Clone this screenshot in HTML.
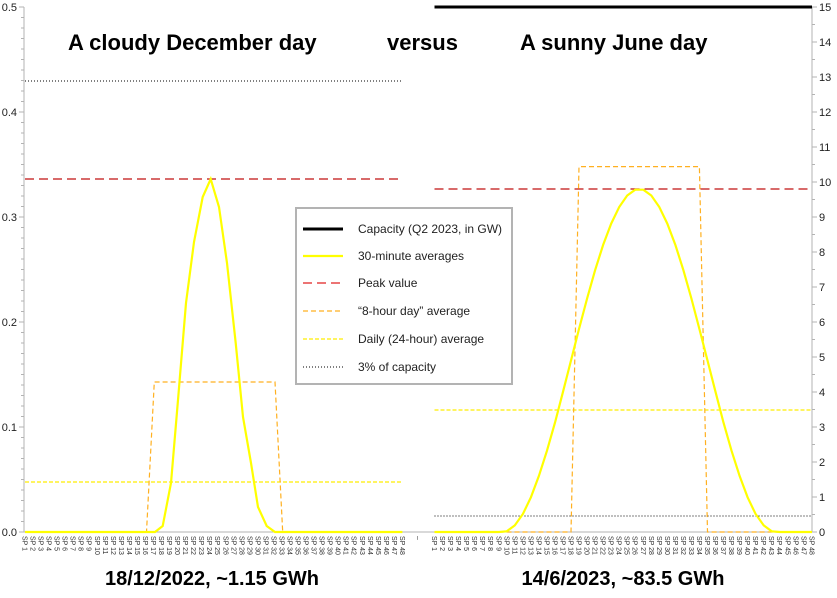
<!DOCTYPE html>
<html><head><meta charset="utf-8"><style>
html,body{margin:0;padding:0;background:#fff}
svg{display:block}
text{font-family:"Liberation Sans",sans-serif}
.t{font-size:11px;fill:#222}
.c{font-size:7px;fill:#333}
</style></head><body>
<svg width="837" height="598" viewBox="0 0 837 598" xmlns="http://www.w3.org/2000/svg">
<!-- axes -->
<line x1="24" y1="7" x2="24" y2="532" stroke="#b3b3b3"/>
<line x1="812" y1="7" x2="812" y2="532" stroke="#b3b3b3"/>
<line x1="24" y1="532" x2="812" y2="532" stroke="#b3b3b3"/>
<g stroke="#b3b3b3">
<line x1="19" y1="7" x2="24" y2="7"/><line x1="19" y1="112" x2="24" y2="112"/><line x1="19" y1="217" x2="24" y2="217"/><line x1="19" y1="322" x2="24" y2="322"/><line x1="19" y1="427" x2="24" y2="427"/><line x1="19" y1="532" x2="24" y2="532"/>
</g>
<g stroke="#b3b3b3" stroke-dasharray="3,7.5" stroke-dashoffset="-7.5">
<line x1="21.5" y1="7" x2="21.5" y2="532" stroke-width="0"/>
</g>
<path stroke="#b3b3b3" fill="none" d="M21 17.5h3M21 28h3M21 38.5h3M21 49h3M21 59.5h3M21 70h3M21 80.5h3M21 91h3M21 101.5h3M21 122.5h3M21 133h3M21 143.5h3M21 154h3M21 164.5h3M21 175h3M21 185.5h3M21 196h3M21 206.5h3M21 227.5h3M21 238h3M21 248.5h3M21 259h3M21 269.5h3M21 280h3M21 290.5h3M21 301h3M21 311.5h3M21 332.5h3M21 343h3M21 353.5h3M21 364h3M21 374.5h3M21 385h3M21 395.5h3M21 406h3M21 416.5h3M21 437.5h3M21 448h3M21 458.5h3M21 469h3M21 479.5h3M21 490h3M21 500.5h3M21 511h3M21 521.5h3"/>
<g stroke="#b3b3b3">
<line x1="812" y1="7" x2="817" y2="7"/><line x1="812" y1="42" x2="817" y2="42"/><line x1="812" y1="77" x2="817" y2="77"/><line x1="812" y1="112" x2="817" y2="112"/><line x1="812" y1="147" x2="817" y2="147"/><line x1="812" y1="182" x2="817" y2="182"/><line x1="812" y1="217" x2="817" y2="217"/><line x1="812" y1="252" x2="817" y2="252"/><line x1="812" y1="287" x2="817" y2="287"/><line x1="812" y1="322" x2="817" y2="322"/><line x1="812" y1="357" x2="817" y2="357"/><line x1="812" y1="392" x2="817" y2="392"/><line x1="812" y1="427" x2="817" y2="427"/><line x1="812" y1="462" x2="817" y2="462"/><line x1="812" y1="497" x2="817" y2="497"/><line x1="812" y1="532" x2="817" y2="532"/>
<line x1="812" y1="24.5" x2="815" y2="24.5"/><line x1="812" y1="59.5" x2="815" y2="59.5"/><line x1="812" y1="94.5" x2="815" y2="94.5"/><line x1="812" y1="129.5" x2="815" y2="129.5"/><line x1="812" y1="164.5" x2="815" y2="164.5"/><line x1="812" y1="199.5" x2="815" y2="199.5"/><line x1="812" y1="234.5" x2="815" y2="234.5"/><line x1="812" y1="269.5" x2="815" y2="269.5"/><line x1="812" y1="304.5" x2="815" y2="304.5"/><line x1="812" y1="339.5" x2="815" y2="339.5"/><line x1="812" y1="374.5" x2="815" y2="374.5"/><line x1="812" y1="409.5" x2="815" y2="409.5"/><line x1="812" y1="444.5" x2="815" y2="444.5"/><line x1="812" y1="479.5" x2="815" y2="479.5"/><line x1="812" y1="514.5" x2="815" y2="514.5"/>
</g>
<g class="t" text-anchor="end">
<text x="17" y="11">0.5</text><text x="17" y="116">0.4</text><text x="17" y="221">0.3</text><text x="17" y="326">0.2</text><text x="17" y="431">0.1</text><text x="17" y="536">0.0</text>
</g>
<g class="t">
<text x="819" y="11">15</text><text x="819" y="46">14</text><text x="819" y="81">13</text><text x="819" y="116">12</text><text x="819" y="151">11</text><text x="819" y="186">10</text><text x="819" y="221">9</text><text x="819" y="256">8</text><text x="819" y="291">7</text><text x="819" y="326">6</text><text x="819" y="361">5</text><text x="819" y="396">4</text><text x="819" y="431">3</text><text x="819" y="466">2</text><text x="819" y="501">1</text><text x="819" y="536">0</text>
</g>

<!-- left series -->
<line x1="25" y1="81" x2="402.4" y2="81" stroke="#000" stroke-width="1" stroke-dasharray="1,2"/>
<line x1="25" y1="179" x2="402.4" y2="179" stroke="#c01010" stroke-width="1.3" stroke-dasharray="9,5"/>
<line x1="25" y1="482" x2="402.4" y2="482" stroke="#ffee00" stroke-width="1.2" stroke-dasharray="4,2"/>
<polyline fill="none" stroke="#ffb020" stroke-width="1.2" stroke-dasharray="5,3" points="25,532 146.5,532 154.3,382 275,382 282.7,532 402.4,532"/>
<polyline fill="none" stroke="#ffff00" stroke-width="2.2" points="25,532 155,532 162.7,526 171,483 178,400 186,303 194,242 202.7,197 210.7,179 219,207 227,263 235.7,343 243,417 251,463 258,507 266.7,526 275,532 402.4,532"/>

<!-- right series -->
<line x1="434.5" y1="7" x2="812" y2="7" stroke="#000" stroke-width="3"/>
<line x1="434.5" y1="516" x2="812" y2="516" stroke="#000" stroke-width="1" stroke-dasharray="1,2"/>
<line x1="434.5" y1="189" x2="812" y2="189" stroke="#c01010" stroke-width="1.3" stroke-dasharray="9,5"/>
<line x1="434.5" y1="410" x2="812" y2="410" stroke="#ffee00" stroke-width="1.2" stroke-dasharray="4,2"/>
<polyline fill="none" stroke="#ffb020" stroke-width="1.2" stroke-dasharray="5,3" points="434.5,532 571,532 579,166.6 699.4,166.6 707.5,532 812,532"/>
<polyline fill="none" stroke="#ffff00" stroke-width="2.2" points="434.5,532 498.8,532 506.8,531.3 514.8,525.4 522.9,514 530.9,497.3 538.9,475.9 546.9,450.9 555,422.6 563,391.8 571,360.5 579,329 587.1,298.5 595.1,270.2 603.1,245 611.2,223.6 619.2,207 627.2,195.5 635.2,189.7 643.3,189.7 651.3,195.5 659.3,207 667.3,223.6 675.4,245 683.4,270.2 691.4,298.5 699.4,329 707.5,360.5 715.5,391.8 723.5,422.6 731.6,450.9 739.6,475.9 747.6,497.3 755.6,514 763.7,525.4 771.7,531.3 779.7,532 812,532"/>

<!-- titles -->
<g font-weight="bold" font-size="22" fill="#000">
<text x="68" y="50">A cloudy December day</text>
<text x="387" y="50">versus</text>
<text x="520" y="50">A sunny June day</text>
</g>
<g font-weight="bold" font-size="20" fill="#000" text-anchor="middle">
<text x="212" y="585">18/12/2022, ~1.15 GWh</text>
<text x="623" y="585">14/6/2023, ~83.5 GWh</text>
</g>

<!-- legend -->
<rect x="296" y="208" width="216" height="176" fill="#fff" stroke="#b3b3b3" stroke-width="2"/>
<line x1="303" y1="229" x2="343" y2="229" stroke="#000" stroke-width="3"/>
<line x1="303" y1="256" x2="343" y2="256" stroke="#ffff00" stroke-width="2.2"/>
<line x1="303" y1="283" x2="343" y2="283" stroke="#e02020" stroke-width="1.2" stroke-dasharray="9,5"/>
<line x1="303" y1="311" x2="343" y2="311" stroke="#ffb020" stroke-width="1.2" stroke-dasharray="5,3"/>
<line x1="303" y1="339" x2="343" y2="339" stroke="#ffee00" stroke-width="1.2" stroke-dasharray="4,2"/>
<line x1="303" y1="367" x2="343" y2="367" stroke="#000" stroke-width="1" stroke-dasharray="1,2"/>
<g font-size="12" fill="#222">
<text x="358" y="233">Capacity (Q2 2023, in GW)</text>
<text x="358" y="260">30-minute averages</text>
<text x="358" y="287">Peak value</text>
<text x="358" y="315">“8-hour day” average</text>
<text x="358" y="343">Daily (24-hour) average</text>
<text x="358" y="371">3% of capacity</text>
</g>

<!-- category labels -->
<g class="c">
<text transform="translate(22.5,536) rotate(90)">SP 1</text>
<text transform="translate(30.5,536) rotate(90)">SP 2</text>
<text transform="translate(38.6,536) rotate(90)">SP 3</text>
<text transform="translate(46.6,536) rotate(90)">SP 4</text>
<text transform="translate(54.6,536) rotate(90)">SP 5</text>
<text transform="translate(62.7,536) rotate(90)">SP 6</text>
<text transform="translate(70.7,536) rotate(90)">SP 7</text>
<text transform="translate(78.7,536) rotate(90)">SP 8</text>
<text transform="translate(86.7,536) rotate(90)">SP 9</text>
<text transform="translate(94.8,536) rotate(90)">SP 10</text>
<text transform="translate(102.8,536) rotate(90)">SP 11</text>
<text transform="translate(110.8,536) rotate(90)">SP 12</text>
<text transform="translate(118.9,536) rotate(90)">SP 13</text>
<text transform="translate(126.9,536) rotate(90)">SP 14</text>
<text transform="translate(134.9,536) rotate(90)">SP 15</text>
<text transform="translate(143,536) rotate(90)">SP 16</text>
<text transform="translate(151,536) rotate(90)">SP 17</text>
<text transform="translate(159,536) rotate(90)">SP 18</text>
<text transform="translate(167,536) rotate(90)">SP 19</text>
<text transform="translate(175.1,536) rotate(90)">SP 20</text>
<text transform="translate(183.1,536) rotate(90)">SP 21</text>
<text transform="translate(191.2,536) rotate(90)">SP 22</text>
<text transform="translate(199.2,536) rotate(90)">SP 23</text>
<text transform="translate(207.2,536) rotate(90)">SP 24</text>
<text transform="translate(215.2,536) rotate(90)">SP 25</text>
<text transform="translate(223.3,536) rotate(90)">SP 26</text>
<text transform="translate(231.3,536) rotate(90)">SP 27</text>
<text transform="translate(239.3,536) rotate(90)">SP 28</text>
<text transform="translate(247.4,536) rotate(90)">SP 29</text>
<text transform="translate(255.4,536) rotate(90)">SP 30</text>
<text transform="translate(263.4,536) rotate(90)">SP 31</text>
<text transform="translate(271.4,536) rotate(90)">SP 32</text>
<text transform="translate(279.5,536) rotate(90)">SP 33</text>
<text transform="translate(287.5,536) rotate(90)">SP 34</text>
<text transform="translate(295.5,536) rotate(90)">SP 35</text>
<text transform="translate(303.6,536) rotate(90)">SP 36</text>
<text transform="translate(311.6,536) rotate(90)">SP 37</text>
<text transform="translate(319.6,536) rotate(90)">SP 38</text>
<text transform="translate(327.6,536) rotate(90)">SP 39</text>
<text transform="translate(335.7,536) rotate(90)">SP 40</text>
<text transform="translate(343.7,536) rotate(90)">SP 41</text>
<text transform="translate(351.7,536) rotate(90)">SP 42</text>
<text transform="translate(359.8,536) rotate(90)">SP 43</text>
<text transform="translate(367.8,536) rotate(90)">SP 44</text>
<text transform="translate(375.8,536) rotate(90)">SP 45</text>
<text transform="translate(383.9,536) rotate(90)">SP 46</text>
<text transform="translate(391.9,536) rotate(90)">SP 47</text>
<text transform="translate(399.9,536) rotate(90)">SP 48</text>
<text transform="translate(416,536) rotate(90)">–</text>
<text transform="translate(432,536) rotate(90)">SP 1</text>
<text transform="translate(440.1,536) rotate(90)">SP 2</text>
<text transform="translate(448.1,536) rotate(90)">SP 3</text>
<text transform="translate(456.1,536) rotate(90)">SP 4</text>
<text transform="translate(464.2,536) rotate(90)">SP 5</text>
<text transform="translate(472.2,536) rotate(90)">SP 6</text>
<text transform="translate(480.2,536) rotate(90)">SP 7</text>
<text transform="translate(488.2,536) rotate(90)">SP 8</text>
<text transform="translate(496.3,536) rotate(90)">SP 9</text>
<text transform="translate(504.3,536) rotate(90)">SP 10</text>
<text transform="translate(512.3,536) rotate(90)">SP 11</text>
<text transform="translate(520.4,536) rotate(90)">SP 12</text>
<text transform="translate(528.4,536) rotate(90)">SP 13</text>
<text transform="translate(536.4,536) rotate(90)">SP 14</text>
<text transform="translate(544.4,536) rotate(90)">SP 15</text>
<text transform="translate(552.5,536) rotate(90)">SP 16</text>
<text transform="translate(560.5,536) rotate(90)">SP 17</text>
<text transform="translate(568.5,536) rotate(90)">SP 18</text>
<text transform="translate(576.5,536) rotate(90)">SP 19</text>
<text transform="translate(584.6,536) rotate(90)">SP 20</text>
<text transform="translate(592.6,536) rotate(90)">SP 21</text>
<text transform="translate(600.6,536) rotate(90)">SP 22</text>
<text transform="translate(608.7,536) rotate(90)">SP 23</text>
<text transform="translate(616.7,536) rotate(90)">SP 24</text>
<text transform="translate(624.7,536) rotate(90)">SP 25</text>
<text transform="translate(632.7,536) rotate(90)">SP 26</text>
<text transform="translate(640.8,536) rotate(90)">SP 27</text>
<text transform="translate(648.8,536) rotate(90)">SP 28</text>
<text transform="translate(656.8,536) rotate(90)">SP 29</text>
<text transform="translate(664.8,536) rotate(90)">SP 30</text>
<text transform="translate(672.9,536) rotate(90)">SP 31</text>
<text transform="translate(680.9,536) rotate(90)">SP 32</text>
<text transform="translate(688.9,536) rotate(90)">SP 33</text>
<text transform="translate(696.9,536) rotate(90)">SP 34</text>
<text transform="translate(705,536) rotate(90)">SP 35</text>
<text transform="translate(713,536) rotate(90)">SP 36</text>
<text transform="translate(721,536) rotate(90)">SP 37</text>
<text transform="translate(729.1,536) rotate(90)">SP 38</text>
<text transform="translate(737.1,536) rotate(90)">SP 39</text>
<text transform="translate(745.1,536) rotate(90)">SP 40</text>
<text transform="translate(753.1,536) rotate(90)">SP 41</text>
<text transform="translate(761.2,536) rotate(90)">SP 42</text>
<text transform="translate(769.2,536) rotate(90)">SP 43</text>
<text transform="translate(777.2,536) rotate(90)">SP 44</text>
<text transform="translate(785.3,536) rotate(90)">SP 45</text>
<text transform="translate(793.3,536) rotate(90)">SP 46</text>
<text transform="translate(801.3,536) rotate(90)">SP 47</text>
<text transform="translate(809.4,536) rotate(90)">SP 48</text>
</g>
</svg>
</body></html>
